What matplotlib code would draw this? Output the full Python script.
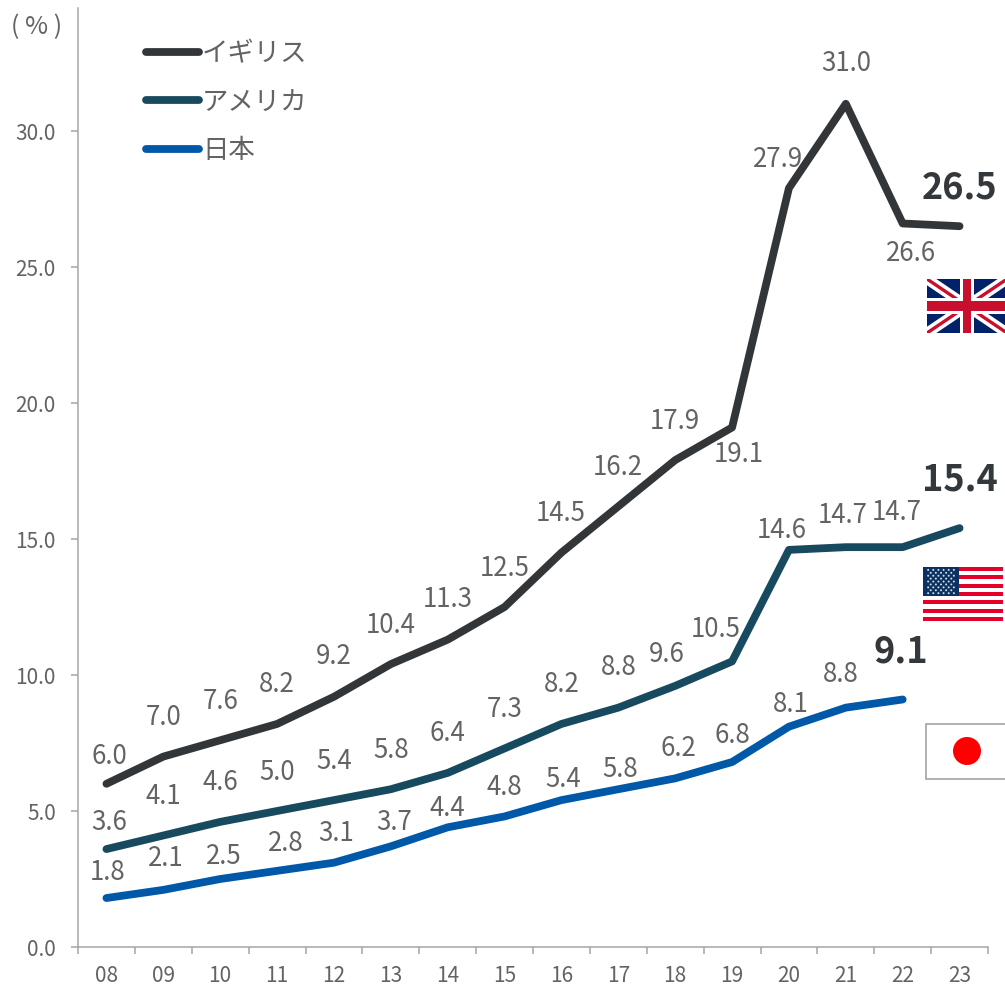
import matplotlib
matplotlib.use("Agg")
import matplotlib.pyplot as plt
from matplotlib.patches import Rectangle, Circle

plt.rcParams['font.family'] = ['Noto Sans CJK JP', 'DejaVu Sans']

W, H = 1005, 986

years = ["08", "09", "10", "11", "12", "13", "14", "15",
         "16", "17", "18", "19", "20", "21", "22", "23"]
uk = [6.0, 7.0, 7.6, 8.2, 9.2, 10.4, 11.3, 12.5, 14.5, 16.2, 17.9, 19.1, 27.9, 31.0, 26.6, 26.5]
us = [3.6, 4.1, 4.6, 5.0, 5.4, 5.8, 6.4, 7.3, 8.2, 8.8, 9.6, 10.5, 14.6, 14.7, 14.7, 15.4]
jp = [1.8, 2.1, 2.5, 2.8, 3.1, 3.7, 4.4, 4.8, 5.4, 5.8, 6.2, 6.8, 8.1, 8.8, 9.1]
yticks = [0, 5, 10, 15, 20, 25, 30]

# label offsets from the point, in pixels
uk_off = [(3, 27), (0, 39), (0, 39), (0, 39), (0, 40), (0, 39), (0, 40), (0, 39),
          (-1, 39), (-1, 39), (0, 39), (7, -27), (-11, 29), (0, 40), (8, -30), (0, 38)]
us_off = [(3, 27), (0, 39), (0, 39), (0, 39), (0, 39), (0, 39), (0, 39), (0, 39),
          (0, 39), (0, 40), (-8, 31), (-16, 32), (-7, 19), (-3, 32), (-6, 35), (0, 48)]
jp_off = [(1, 26), (2, 31), (4, 23), (9, 27), (2, 29), (3, 24), (0, 19), (0, 29),
          (2, 21), (2, 20), (3, 30), (0, 27), (2, 22), (-5, 33), (-2, 47)]

TEXT = "#636363"
BOLD = "#33383C"
GREY = "#A6A6A6"
C_UK, C_US, C_JP = "#333639", "#174A5F", "#0058A8"

fig = plt.figure(figsize=(W / 100, H / 100), dpi=100)
ax = fig.add_axes([78 / W, (H - 947) / H, 910 / W, 939 / H])
ax.set_xlim(-0.5, 15.5)
ax.set_ylim(0, 939 / 27.2)

for s in ["top", "right"]:
    ax.spines[s].set_visible(False)
for s in ["left", "bottom"]:
    ax.spines[s].set_color(GREY)
    ax.spines[s].set_linewidth(1.1)

ax.set_yticks(yticks)
ax.set_yticklabels(["%.1f" % v for v in yticks], fontsize=15, color=TEXT)
ax.tick_params(axis="y", length=5, width=1.1, color=GREY, pad=11)
ax.set_xticks(range(16))
ax.set_xticklabels(years, fontsize=15, color=TEXT)
ax.set_xticks([i - 0.5 for i in range(17)], minor=True)
ax.tick_params(axis="x", which="major", length=0, pad=13)
ax.tick_params(axis="x", which="minor", length=5, width=1.1, color=GREY)

series = [(uk, C_UK, "イギリス", uk_off), (us, C_US, "アメリカ", us_off), (jp, C_JP, "日本", jp_off)]
for vals, col, name, off in series:
    ax.plot(range(len(vals)), vals, color=col, lw=5.6, label=name,
            solid_capstyle="round", solid_joinstyle="round")
    for i, v in enumerate(vals):
        last = i == len(vals) - 1
        ax.annotate("%.1f" % v, (i, v), xytext=off[i], textcoords="offset pixels",
                    ha="center", va="center",
                    fontsize=26 if last else 18.6,
                    fontweight="bold" if last else "normal",
                    color=BOLD if last else TEXT)

leg = ax.legend(loc="upper left", bbox_to_anchor=(146 / W, (H - 40) / H),
                bbox_transform=fig.transFigure, frameon=False, fontsize=19,
                handlelength=2.0, handletextpad=0.12, labelspacing=0.82,
                borderpad=0, borderaxespad=0)
for t in leg.get_texts():
    t.set_color(TEXT)

# overlay in pixel coordinates for the unit label and the flags
ov = fig.add_axes([0, 0, 1, 1])
ov.set_xlim(0, W)
ov.set_ylim(H, 0)
ov.axis("off")
ov.patch.set_alpha(0)

ov.text(37, 27, "( % )", fontsize=18, color=TEXT, ha="center", va="center")


def uk_flag(x0, y0, x1, y1):
    navy, red = "#012169", "#C8102E"
    clip = Rectangle((x0, y0), x1 - x0, y1 - y0, transform=ov.transData)
    ov.add_patch(Rectangle((x0, y0), x1 - x0, y1 - y0, fc=navy, ec="none", zorder=1))
    for a, b in [((x0, y0), (x1, y1)), ((x0, y1), (x1, y0))]:
        ln, = ov.plot([a[0], b[0]], [a[1], b[1]], color="white", lw=7.5, solid_capstyle="butt", zorder=2)
        ln.set_clip_path(clip)
        ln, = ov.plot([a[0], b[0]], [a[1], b[1]], color=red, lw=2.4, solid_capstyle="butt", zorder=3)
        ln.set_clip_path(clip)
    cx, cy = (x0 + x1) / 2, (y0 + y1) / 2
    ov.add_patch(Rectangle((cx - 7, y0), 14, y1 - y0, fc="white", ec="none", zorder=4))
    ov.add_patch(Rectangle((x0, cy - 8), x1 - x0, 16, fc="white", ec="none", zorder=4))
    ov.add_patch(Rectangle((cx - 4, y0), 8, y1 - y0, fc=red, ec="none", zorder=5))
    ov.add_patch(Rectangle((x0, cy - 5), x1 - x0, 10, fc=red, ec="none", zorder=5))


def us_flag(x0, y0, x1, y1):
    red, navy = "#E4002B", "#0A3161"
    h = (y1 - y0) / 13
    ov.add_patch(Rectangle((x0, y0), x1 - x0, y1 - y0, fc="white", ec="none", zorder=1))
    for i in range(0, 13, 2):
        ov.add_patch(Rectangle((x0, y0 + i * h), x1 - x0, h, fc=red, ec="none", zorder=2))
    cw, ch = 36, 7 * h
    ov.add_patch(Rectangle((x0, y0), cw, ch, fc=navy, ec="none", zorder=3))
    for r in range(9):
        n = 6 if r % 2 == 0 else 5
        for c in range(n):
            sx = x0 + cw * (c + (1 if r % 2 == 0 else 1.5)) / 7
            sy = y0 + ch * (r + 1) / 10
            ov.add_patch(Circle((sx, sy), 1.0, fc="#D5DCE6", ec="none", zorder=4))


def jp_flag(x0, y0, x1, y1, cx, cy, r):
    ov.add_patch(Rectangle((x0, y0), x1 - x0, y1 - y0, fc="white", ec="#999CA0", lw=1.1,
                           clip_on=True, zorder=1))
    ov.add_patch(Circle((cx, cy), r, fc="#FF0000", ec="none", zorder=2))


uk_flag(927, 279, 1007, 333)
us_flag(923, 567, 1003, 621)
jp_flag(926, 724, 1010, 779, 967, 751, 14)

fig.savefig("out.png", dpi=100)
